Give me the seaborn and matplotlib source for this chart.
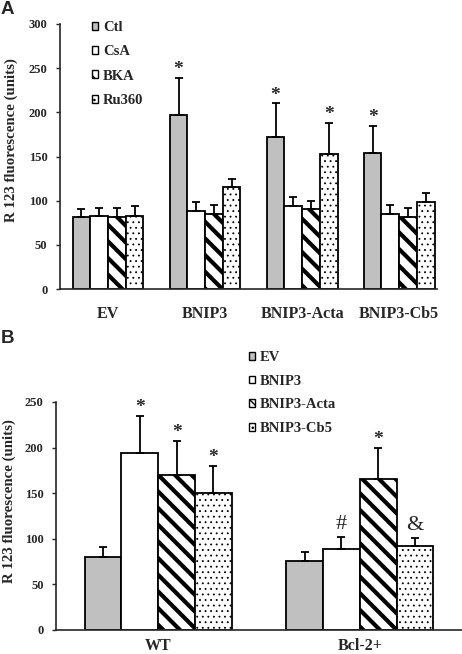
import numpy as np
import pandas as pd
import matplotlib
matplotlib.use("Agg")
import matplotlib.pyplot as plt
import seaborn as sns
from matplotlib.patches import Patch
from matplotlib.container import BarContainer

# ─────────────────────────────────────────────
#  DATA
# ─────────────────────────────────────────────

groups_a = ["EV", "BNIP3", "BNIP3-Acta", "BNIP3-Cb5"]
treat_a = ["Ctl", "CsA", "BKA", "Ru360"]
ctl_a = [81, 197, 172, 154]
csa_a = [83, 88, 94, 85]
bka_a = [82, 85, 91, 82]
ru360_a = [83, 115, 153, 98]
ctl_err_a = [10, 42, 38, 31]
csa_err_a = [9, 11, 10, 10]
bka_err_a = [10, 10, 9, 10]
ru360_err_a = [11, 10, 35, 11]
ctl_mark_a = ["", "*", "*", "*"]
csa_mark_a = ["", "", "", ""]
bka_mark_a = ["", "", "", ""]
ru360_mark_a = ["", "", "*", ""]

groups_b = ["WT", "Bcl-2+"]
treat_b = ["EV", "BNIP3", "BNIP3-Acta", "BNIP3-Cb5"]
ev_b = [80, 76]
bnip3_b = [194, 89]
acta_b = [170, 166]
cb5_b = [150, 92]
ev_err_b = [11, 9]
bnip3_err_b = [41, 13]
acta_err_b = [37, 34]
cb5_err_b = [30, 9]
ev_mark_b = ["", ""]
bnip3_mark_b = ["*", "#"]
acta_mark_b = ["*", "*"]
cb5_mark_b = ["*", "&"]

# ─────────────────────────────────────────────
#  STYLE
# ─────────────────────────────────────────────

sns.set_style("ticks")
plt.rcParams["font.family"] = ["Liberation Serif", "DejaVu Serif"]
plt.rcParams["font.weight"] = "bold"
plt.rcParams["hatch.color"] = "black"

FILLS = ["#c0c0c0", "white", "white", "white"]
HATCHES = ["", "", "\\\\", "..."]
HATCH_LW = [1.0, 1.0, 3.0, 0.6]


def draw_panel(ax, groups, treats, means, errs, marks, ylim, yticks):
    df = pd.DataFrame({
        "group": np.repeat(groups, len(treats)),
        "treat": treats * len(groups),
        "value": np.array(means).T.ravel(),
    })
    sns.barplot(data=df, x="group", y="value", hue="treat", order=groups,
                hue_order=treats, width=0.73, gap=0, errorbar=None,
                palette=FILLS, edgecolor="black", linewidth=1.3,
                saturation=1, legend=False, ax=ax)

    bars_by_hue = [c for c in ax.containers if isinstance(c, BarContainer)]
    for k, cont in enumerate(bars_by_hue):
        for j, bar in enumerate(cont.patches):
            bar.set_hatch(HATCHES[k])
            bar.set_hatch_linewidth(HATCH_LW[k])
            bar.set_facecolor(FILLS[k])
            xc = bar.get_x() + bar.get_width() / 2
            top = bar.get_height()
            ax.errorbar([xc], [top], yerr=[[0], [errs[k][j]]], fmt="none",
                        ecolor="black", elinewidth=1.3, capsize=2.6,
                        capthick=1.3, zorder=1)
            m = marks[k][j]
            if m:
                star = m == "*"
                ax.annotate(m, (xc, top + errs[k][j]), xytext=(0, 0 if star else 2),
                            textcoords="offset points", ha="center", va="bottom",
                            fontsize=14 if star else 16,
                            fontweight="bold" if star else "normal")

    ax.set_ylim(*ylim)
    ax.set_yticks(yticks)
    ax.set_xlabel("")
    ax.set_ylabel("R 123 fluorescence (units)", fontsize=10.7, fontweight="bold")
    ax.tick_params(axis="y", length=3, width=1, labelsize=9, pad=6)
    ax.tick_params(axis="x", length=0, labelsize=11.5)
    for lab in ax.get_xticklabels() + ax.get_yticklabels():
        lab.set_fontweight("bold")
    sns.despine(ax=ax)
    ax.spines["left"].set_linewidth(1.2)
    ax.spines["bottom"].set_linewidth(1.2)

    handles = []
    for k, t in enumerate(treats):
        p = Patch(facecolor=FILLS[k], edgecolor="black", hatch=HATCHES[k],
                  linewidth=1, label=t)
        p.set_hatch_linewidth(HATCH_LW[k])
        handles.append(p)
    return handles


fig = plt.figure(figsize=(4.62, 6.54), dpi=100)

# Panel A
ax_a = fig.add_axes([60 / 462, 1 - 289 / 654, 377 / 462, 265 / 654])
h_a = draw_panel(ax_a, groups_a, treat_a,
                 [ctl_a, csa_a, bka_a, ru360_a],
                 [ctl_err_a, csa_err_a, bka_err_a, ru360_err_a],
                 [ctl_mark_a, csa_mark_a, bka_mark_a, ru360_mark_a],
                 (0, 300), range(0, 301, 50))
ax_a.set_xlim(-0.495, 3.39)
ax_a.tick_params(axis="x", pad=12)
ax_a.yaxis.set_label_coords(-0.112, 0.562)
ax_a.legend(handles=h_a, loc="upper left", bbox_to_anchor=(86 / 462, 1 - 15 / 654),
            bbox_transform=fig.transFigure, frameon=False, fontsize=10.5,
            handlelength=0.45, handleheight=0.45, handletextpad=0.3,
            labelspacing=0.78, borderaxespad=0)

# Panel B
ax_b = fig.add_axes([56 / 462, 1 - 630 / 654, 406 / 462, 228 / 654])
h_b = draw_panel(ax_b, groups_b, treat_b,
                 [ev_b, bnip3_b, acta_b, cb5_b],
                 [ev_err_b, bnip3_err_b, acta_err_b, cb5_err_b],
                 [ev_mark_b, bnip3_mark_b, acta_mark_b, cb5_mark_b],
                 (0, 250), range(0, 251, 50))
ax_b.set_xlim(-0.507, 1.507)
ax_b.tick_params(axis="x", pad=6)
ax_b.yaxis.set_label_coords(-0.098, 0.566)
ax_b.legend(handles=h_b, loc="upper left", bbox_to_anchor=(243 / 462, 1 - 345 / 654),
            bbox_transform=fig.transFigure, frameon=False, fontsize=10.5,
            handlelength=0.45, handleheight=0.45, handletextpad=0.3,
            labelspacing=0.74, borderaxespad=0)

fig.text(1 / 462, 1 - 1 / 654, "A", fontsize=13.5, fontweight="bold",
         family="Liberation Sans", va="top", ha="left")
fig.text(1 / 462, 1 - 330 / 654, "B", fontsize=13.5, fontweight="bold",
         family="Liberation Sans", va="top", ha="left")

fig.savefig("out.png", dpi=100)
